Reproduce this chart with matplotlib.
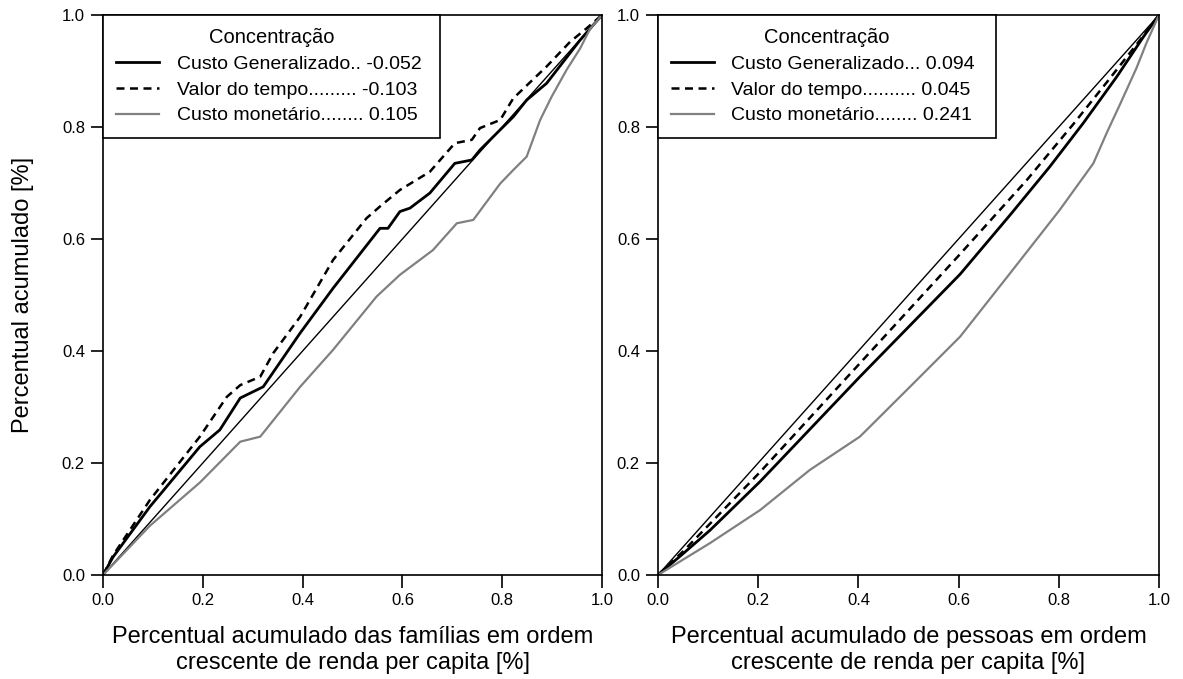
import matplotlib
matplotlib.use("Agg")
import matplotlib.pyplot as plt

plt.rcParams["font.family"] = ["Liberation Sans", "DejaVu Sans"]

# curvas de concentração - famílias (painel esquerdo)
fam_cg_x = [0, 0.02, 0.094, 0.194, 0.234, 0.275, 0.321, 0.395, 0.461, 0.555, 0.571,
            0.595, 0.615, 0.655, 0.705, 0.739, 0.7555, 0.796, 0.822, 0.849, 0.889, 0.956, 1.0]
fam_cg_y = [0, 0.032, 0.122, 0.229, 0.259, 0.316, 0.336, 0.432, 0.512, 0.619, 0.619,
            0.649, 0.655, 0.682, 0.735, 0.741, 0.759, 0.795, 0.818, 0.848, 0.878, 0.955, 1.0]

fam_vt_x = [0, 0.02, 0.094, 0.194, 0.248, 0.275, 0.315, 0.341, 0.395, 0.461, 0.528, 0.555,
            0.595, 0.655, 0.705, 0.739, 0.7555, 0.796, 0.822, 0.889, 0.936, 0.969, 1.0]
fam_vt_y = [0, 0.035, 0.134, 0.247, 0.318, 0.339, 0.354, 0.396, 0.461, 0.5625, 0.637, 0.658,
            0.6875, 0.720, 0.771, 0.777, 0.798, 0.8125, 0.851, 0.908, 0.952, 0.976, 1.0]

fam_cm_x = [0, 0.094, 0.194, 0.275, 0.315, 0.395, 0.461, 0.548, 0.595, 0.661, 0.709, 0.742,
            0.796, 0.822, 0.849, 0.876, 0.899, 0.929, 0.956, 0.976, 1.0]
fam_cm_y = [0, 0.088, 0.165, 0.238, 0.247, 0.336, 0.402, 0.497, 0.536, 0.580, 0.628, 0.634,
            0.699, 0.723, 0.747, 0.8125, 0.854, 0.902, 0.940, 0.975, 1.0]

# curvas de concentração - pessoas (painel direito)
pes_cg_x = [0, 0.05, 0.104, 0.204, 0.403, 0.603, 0.703, 0.782, 0.849, 0.916, 0.969, 1.0]
pes_cg_y = [0, 0.038, 0.080, 0.167, 0.354, 0.537, 0.643, 0.729, 0.807, 0.890, 0.961, 1.0]

pes_vt_x = [0, 0.05, 0.1, 0.204, 0.403, 0.603, 0.736, 0.829, 0.896, 0.962, 1.0]
pes_vt_y = [0, 0.042, 0.088, 0.184, 0.378, 0.573, 0.705, 0.805, 0.880, 0.955, 1.0]

pes_cm_x = [0, 0.104, 0.204, 0.303, 0.403, 0.503, 0.603, 0.703, 0.802, 0.869, 0.896,
            0.922, 0.955, 0.975, 1.0]
pes_cm_y = [0, 0.057, 0.116, 0.1875, 0.247, 0.336, 0.4255, 0.539, 0.652, 0.735, 0.790,
            0.840, 0.905, 0.950, 1.0]

fam_labels = ["Custo Generalizado.. -0.052",
              "Valor do tempo......... -0.103",
              "Custo monetário........ 0.105"]
pes_labels = ["Custo Generalizado... 0.094",
              "Valor do tempo.......... 0.045",
              "Custo monetário........ 0.241"]

ticks = [0.0, 0.2, 0.4, 0.6, 0.8, 1.0]

fig = plt.figure(figsize=(11.83, 6.79), dpi=100)
ax1 = fig.add_axes([0.0871, 0.1532, 0.4218, 0.8248])
ax2 = fig.add_axes([0.5562, 0.1532, 0.4235, 0.8248])


def draw(ax, cg, vt, cm, labels, xlabel):
    ax.plot([0, 1], [0, 1], color="black", lw=1.0)
    l1, = ax.plot(cg[0], cg[1], color="black", lw=2.0)
    l2, = ax.plot(vt[0], vt[1], color="black", lw=1.8, linestyle=(0, (3.2, 2.2)))
    l3, = ax.plot(cm[0], cm[1], color="#808080", lw=1.6)
    ax.set_xlim(0, 1)
    ax.set_ylim(0, 1)
    ax.set_xticks(ticks)
    ax.set_yticks(ticks)
    ax.set_xticklabels([f"{t:.1f}" for t in ticks])
    ax.set_yticklabels([f"{t:.1f}" for t in ticks])
    ax.tick_params(direction="out", length=9, width=1.2, labelsize=12, pad=4)
    for s in ax.spines.values():
        s.set_linewidth(1.2)
    ax.set_xlabel(xlabel, fontsize=17, linespacing=1.25, labelpad=13)
    leg = ax.legend([l1, l2, l3], labels, title="Concentração", loc="upper left",
                    bbox_to_anchor=(0, 0.5, 0.675, 0.5), mode="expand",
                    borderaxespad=0, fontsize=14, title_fontsize=14.5,
                    fancybox=False, framealpha=1, edgecolor="black",
                    handlelength=2.2, handletextpad=0.9, labelspacing=0.42,
                    borderpad=0.68)
    leg.get_frame().set_linewidth(1.2)


draw(ax1, (fam_cg_x, fam_cg_y), (fam_vt_x, fam_vt_y), (fam_cm_x, fam_cm_y), fam_labels,
     "Percentual acumulado das famílias em ordem\ncrescente de renda per capita [%]")
draw(ax2, (pes_cg_x, pes_cg_y), (pes_vt_x, pes_vt_y), (pes_cm_x, pes_cm_y), pes_labels,
     "Percentual acumulado de pessoas em ordem\ncrescente de renda per capita [%]")

ax1.set_ylabel("Percentual acumulado [%]", fontsize=17, labelpad=20)

fig.savefig("out.png", dpi=100)
